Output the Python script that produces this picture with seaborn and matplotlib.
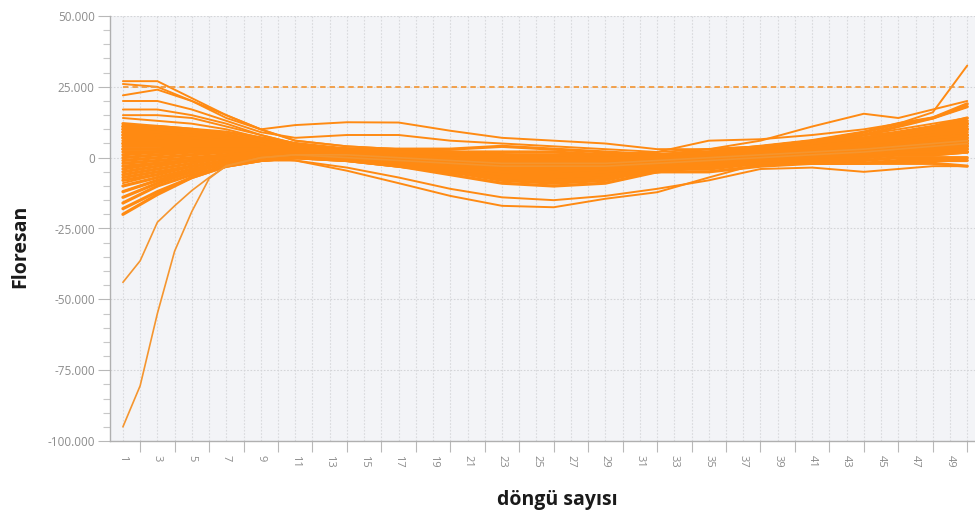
import matplotlib
matplotlib.use("Agg")
import matplotlib.pyplot as plt
import seaborn as sns
import pandas as pd
from matplotlib.ticker import FuncFormatter, FixedLocator

# Sampled PCR cycles (most wells) and a finer grid for the two steep early wells
cycles = [1, 3, 5, 7, 9, 11, 14, 17, 20, 23, 26, 29, 32, 35, 38, 41, 44, 46, 48, 50]
ramp_cycles = [1, 2, 3, 4, 5, 6, 7, 9, 11, 14, 17, 20, 23, 26, 29, 32, 35, 38, 41, 44, 46, 48, 50]

# Baseline-corrected fluorescence, in thousands
band_upper = [
    [12, 11, 10, 8, 6, 4, 3, 2, 1, 0, -1, -1, 0, 1, 3, 5, 7, 9, 11, 14],
    [11, 11, 10, 9, 7, 5, 3, 1, -1, -2, -3, -2, -1, 1, 2, 4, 6, 7, 9, 12],
    [11, 10, 9, 8, 6, 4, 2, 0, -2, -4, -5, -4, -2, 0, 2, 3, 5, 6, 8, 10],
    [10, 10, 9, 7, 6, 4, 3, 2, 2, 1, 1, 1, 1, 2, 3, 5, 8, 11, 14, 19],
    [10, 9, 8, 7, 5, 3, 1, -1, -3, -5, -6, -5, -3, -1, 1, 2, 4, 5, 7, 8],
    [9, 9, 8, 7, 6, 4, 2, 1, 0, -1, -2, -2, -1, 0, 2, 4, 6, 8, 10, 13],
    [9, 8, 7, 6, 5, 3, 1, -1, -4, -6, -7, -6, -4, -2, 0, 1, 2, 3, 5, 6],
    [8, 8, 7, 6, 5, 4, 3, 3, 3, 4, 3, 2, 1, 2, 4, 6, 9, 12, 14, 18],
    [8, 7, 7, 6, 5, 3, 1, -2, -5, -7, -8, -7, -5, -3, -1, 0, 1, 2, 2, 3],
    [7, 7, 6, 6, 5, 3, 2, 0, -1, -2, -3, -3, -2, -1, 1, 3, 5, 6, 8, 9],
    [7, 6, 6, 5, 4, 3, 1, -1, -3, -4, -4, -3, -2, 0, 1, 3, 4, 5, 7, 8],
    [6, 6, 6, 5, 5, 4, 3, 2, 2, 2, 2, 1, 0, 1, 2, 4, 6, 7, 9, 11],
    [5, 5, 5, 5, 4, 3, 1, -1, -3, -5, -6, -6, -4, -2, -1, 0, 2, 3, 4, 5],
    [5, 5, 5, 4, 4, 3, 2, 1, 0, -1, -1, -1, 0, 1, 2, 3, 4, 5, 6, 7],
    [4, 4, 4, 4, 4, 3, 2, 0, -2, -3, -4, -4, -3, -1, 0, 2, 3, 4, 5, 6],
    [3, 3, 4, 4, 4, 3, 2, 1, 0, -1, -2, -2, -1, 0, 2, 3, 5, 7, 9, 10],
    [3, 3, 3, 3, 3, 2, 0, -2, -5, -7, -8, -7, -5, -3, -2, -1, 0, 1, 1, 2],
]
band_lower = [
    [2, 2, 3, 3, 3, 3, 2, 2, 1, 1, 0, 0, 0, 1, 2, 4, 6, 8, 10, 12],
    [1, 2, 2, 3, 3, 2, 1, -1, -2, -3, -3, -3, -2, -1, 0, 1, 2, 3, 3, 4],
    [0, 1, 2, 2, 3, 2, 1, 0, -1, -2, -2, -2, -1, 0, 1, 3, 5, 6, 8, 10],
    [-1, 0, 1, 2, 3, 2, 0, -2, -4, -6, -7, -6, -4, -2, -1, 0, 1, 2, 2, 3],
    [-2, -1, 0, 1, 2, 2, 1, 0, -1, -1, -2, -1, 0, 1, 2, 3, 4, 5, 7, 8],
    [-3, -2, -1, 1, 2, 2, 1, -1, -3, -5, -5, -4, -3, -1, 0, 1, 3, 4, 4, 5],
    [-4, -2, -1, 0, 2, 2, 1, 0, -1, -2, -3, -3, -2, 0, 1, 2, 3, 4, 5, 6],
    [-5, -3, -1, 0, 1, 1, 0, -2, -4, -6, -6, -5, -3, -2, 0, 1, 2, 3, 3, 4],
    [-6, -4, -2, 0, 1, 2, 1, 0, 0, -1, -1, -1, 0, 1, 2, 4, 6, 8, 10, 12],
    [-7, -5, -3, -1, 1, 1, 0, -1, -2, -3, -4, -3, -2, 0, 1, 2, 4, 5, 6, 7],
    [-8, -6, -3, -1, 0, 1, 0, -2, -5, -8, -9, -8, -4, -4, -2, -1, 0, 1, 1, 2],
    [-10, -7, -4, -2, 0, 1, 1, 0, -1, -2, -2, -2, -1, 0, 1, 2, 3, 4, 4, 5],
    [-12, -8, -5, -2, 0, 1, 0, -2, -3, -4, -5, -4, -3, -2, -1, 0, 1, 2, 2, 2],
    [-14, -9, -5, -2, 0, 0, -1, -3, -6, -9, -10, -9, -5, -5, -3, -2, -2, -1, -1, -1],
    [-16, -10, -6, -3, -1, 0, -1, -3, -5, -7, -8, -7, -4, -3, -2, -2, -2, -2, -2, -3],
    [-18, -12, -7, -3, -1, 0, 0, -1, -2, -3, -3, -2, -1, 0, 1, 2, 3, 4, 4, 4],
    [-20, -13, -7, -3, -1, 0, -1, -3, -5, -7, -7, -6, -4, -3, -2, -1, -1, 0, 0, 0],
]
high_start = [
    [27, 27, 21, 15, 10, 6, 4, 3, 2, 1, 0, 0, 1, 2, 3, 5, 7, 9, 11, 13],
    [26, 25, 20, 14, 10, 11.5, 12.5, 12.4, 9.5, 7, 6, 5, 3, 3, 4, 6, 8, 10, 12, 14],
    [22, 24, 20, 15, 10, 6, 4, 3, 2, 1, 0, 0, 0, 1, 3, 5, 7, 9, 11, 14],
    [20, 20, 17, 13, 9, 7, 8, 8, 6, 5, 4, 3, 2, 3, 4, 6, 8, 9, 11, 13],
    [17, 17, 15, 12, 8, 5, 3, 2, 1, 0, -1, -1, 0, 1, 2, 4, 5, 6, 8, 10],
    [15, 15, 14, 11, 8, 5, 3, 1, -1, -2, -3, -3, -2, 0, 1, 3, 4, 5, 7, 8],
    [14, 13, 12, 10, 7, 4, 2, 1, 0, -1, -1, -1, 0, 1, 2, 3, 5, 6, 8, 9],
]
mid_dips = [
    [-9, -6, -3, -1, 0, -1, -4.6, -9, -13.5, -17, -17.5, -14.5, -12.2, -7, -2, 0, 1, 2, 2, 3],
    [-12, -8, -4, -2, -1, -1, -3.5, -7, -11, -14, -15, -13.5, -11, -8, -4, -3.5, -5, -4, -3, -3],
]
late_rise = [
    [10, 9, 8, 7, 5, 3, 2, 1, 0, -1, -1, 0, 1, 3, 6, 11, 15.5, 14, 17, 20],
    [9, 9, 8, 7, 5, 3, 2, 1, 0, 0, 0, 0, 1, 2, 4, 6, 9, 12, 16, 32.5],
    [6, 6, 5, 5, 4, 3, 2, 1, 0, 0, 0, 1, 2, 6, 6.5, 8, 10, 12, 14, 18],
]
steep_start = [
    [-44, -36.4, -22.8, -17, -11.6, -7, -3, 0, 1, 0, -1, -2, -3, -3, -3, -2, -1, 0, 1, 2, 3, 4, 5],
    [-95, -80.5, -55, -33, -19, -7.4, -2.8, 0, 1, 1, 0, -1, -2, -2, -2, -1, 0, 1, 2, 3, 4, 5, 6],
]

threshold = 25000
y_ticks = [-100000, -75000, -50000, -25000, 0, 25000, 50000]
x_label_cycles = list(range(1, 50, 2))
x_tick_cycles = list(range(2, 51, 2))

ORANGE = "#ff8a12"
TICK_GRAY = "#8c8c8c"


def long_form(groups, grid, start):
    """One row per (well, cycle); values converted from thousands."""
    rows = []
    well = start
    for group in groups:
        for curve in group:
            for c, v in zip(grid, curve):
                rows.append({"well": well, "cycle": c, "value": v * 1000})
            well += 1
    return pd.DataFrame(rows), well


band_df, n = long_form([band_upper, band_lower], cycles, 0)
outer_df, n = long_form([high_start, mid_dips, late_rise], cycles, n)
steep_df, n = long_form([steep_start], ramp_cycles, n)

sns.set_theme(style="white")
plt.rcParams["font.family"] = ["Open Sans", "DejaVu Sans"]

fig = plt.figure(figsize=(9.75, 5.21), dpi=100)
ax = fig.add_axes([110 / 975, 1 - 441 / 521, 1 - 110 / 975, (441 - 16) / 521])
ax.set_facecolor("#f3f4f7")

# Dense cluster of wells drawn heavier so it reads as one orange mass
sns.lineplot(data=band_df, x="cycle", y="value", units="well", estimator=None,
             color=ORANGE, linewidth=2.3, legend=False, ax=ax)
sns.lineplot(data=outer_df, x="cycle", y="value", units="well", estimator=None,
             color=ORANGE, linewidth=1.4, legend=False, ax=ax)
sns.lineplot(data=steep_df, x="cycle", y="value", units="well", estimator=None,
             color="#f5952e", linewidth=1.2, legend=False, ax=ax)

ax.hlines(threshold, 1, 50, colors="#f19a3e", linewidth=1.3,
          linestyles=(0, (3, 2.2)), zorder=3)

ax.set_xlim(0.25, 50.45)
ax.set_ylim(-100000, 50000)

# x axis: labels at odd cycles, short marks at even cycles, grid at every cycle
ax.xaxis.set_major_locator(FixedLocator(x_label_cycles))
ax.xaxis.set_minor_locator(FixedLocator(x_tick_cycles))
ax.set_xticklabels([str(c) for c in x_label_cycles], rotation=-90)
ax.tick_params(axis="x", which="major", length=0, pad=10, labelsize=8,
               labelcolor=TICK_GRAY)
ax.tick_params(axis="x", which="minor", length=8, width=0.8, color="#b8b8b8",
               bottom=True)

# y axis: labelled every 25.000 with minor marks every 5.000
ax.yaxis.set_major_locator(FixedLocator(y_ticks))
ax.yaxis.set_minor_locator(FixedLocator(list(range(-100000, 50001, 5000))))
ax.yaxis.set_major_formatter(FuncFormatter(lambda v, _: f"{int(v):,}".replace(",", ".")))
ax.tick_params(axis="y", which="major", length=9, width=0.8, color="#b8b8b8",
               pad=2, labelsize=8.5, labelcolor=TICK_GRAY, left=True)
ax.tick_params(axis="y", which="minor", length=5, width=0.8, color="#c8c8c8",
               left=True)

ax.grid(True, axis="x", which="both", color="#d9dadd", linewidth=0.8,
        linestyle=(0, (1.5, 1.5)))
ax.grid(True, axis="y", which="major", color="#d4d5d8", linewidth=0.8,
        linestyle=(0, (1.5, 1.5)))
ax.set_axisbelow(True)

for side in ("top", "right"):
    ax.spines[side].set_visible(False)
for side in ("left", "bottom"):
    ax.spines[side].set_color("#b0b0b0")
    ax.spines[side].set_linewidth(1.0)

ax.set_xlabel("")
ax.set_ylabel("")
fig.text(20 / 975, 1 - 246 / 521, "Floresan", rotation=90, ha="center",
         va="center", fontsize=14, fontweight="bold", color="#1a1a1a")
fig.text(557 / 975, 1 - 500 / 521, "döngü sayısı", ha="center", va="center",
         fontsize=14, fontweight="bold", color="#1a1a1a")

fig.savefig("out.png", dpi=100, facecolor="white")
